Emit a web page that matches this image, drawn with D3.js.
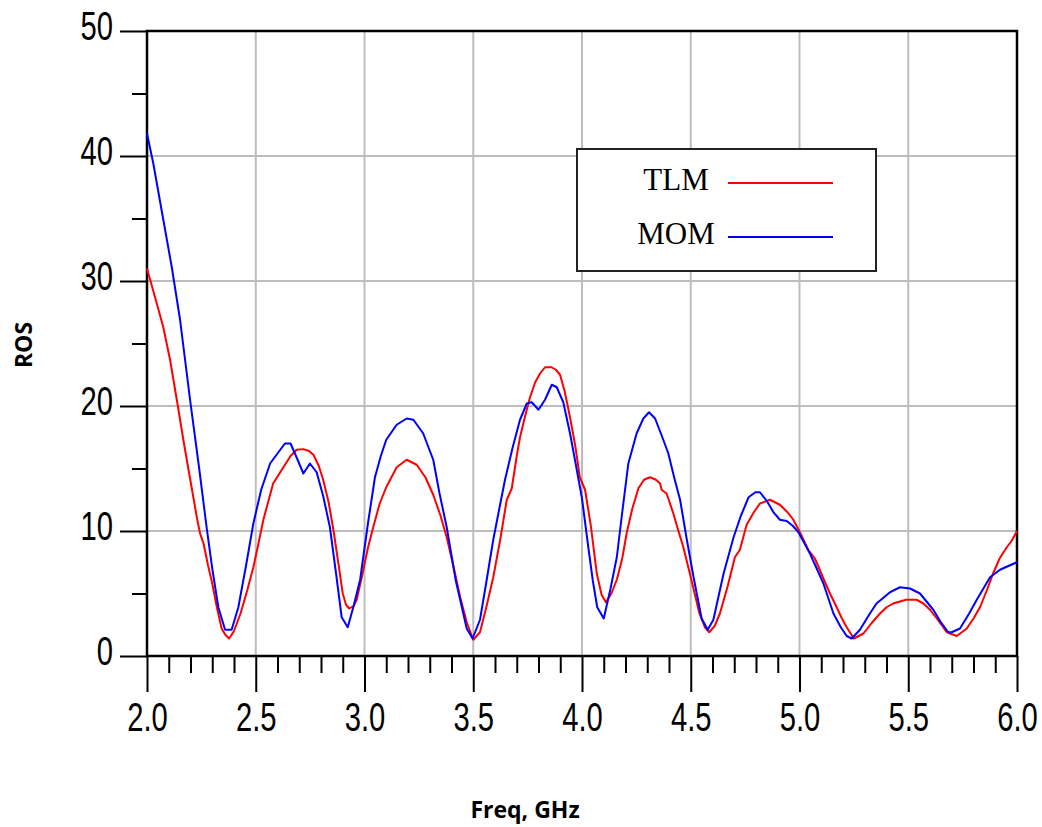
<!DOCTYPE html>
<html>
<head>
<meta charset="utf-8">
<script src="https://cdn.jsdelivr.net/npm/d3@7"></script>
<style>
  html, body { margin: 0; padding: 0; background: #fff; }
  svg { display: block; }
</style>
</head>
<body>
<svg></svg>
<script>
// ---------- data ----------

const tlmFreq = [
  2.000, 2.037, 2.075, 2.106, 2.137, 2.170, 2.200, 2.230, 2.244, 2.260, 2.280, 2.300, 2.320, 2.343,
  2.360, 2.378, 2.400, 2.430, 2.460, 2.489, 2.510, 2.535, 2.580, 2.627, 2.660, 2.688, 2.719, 2.745,
  2.765, 2.790, 2.810, 2.835, 2.857, 2.880, 2.900, 2.915, 2.930, 2.950, 2.964, 2.990, 3.015, 3.040,
  3.070, 3.100, 3.148, 3.194, 3.240, 3.280, 3.316, 3.350, 3.378, 3.410, 3.440, 3.470, 3.500, 3.531,
  3.560, 3.592, 3.625, 3.654, 3.677, 3.700, 3.715, 3.740, 3.761, 3.785, 3.807, 3.830, 3.860, 3.880,
  3.899, 3.920, 3.945, 3.970, 3.990, 4.014, 4.040, 4.068, 4.090, 4.110, 4.135, 4.160, 4.185, 4.205,
  4.230, 4.259, 4.285, 4.313, 4.340, 4.359, 4.366, 4.389, 4.420, 4.440, 4.466, 4.500, 4.540, 4.565,
  4.585, 4.610, 4.634, 4.670, 4.703, 4.726, 4.757, 4.790, 4.818, 4.864, 4.910, 4.945, 4.972, 5.002,
  5.040, 5.071, 5.110, 5.140, 5.171, 5.195, 5.217, 5.250, 5.294, 5.330, 5.370, 5.400, 5.431, 5.490,
  5.538, 5.570, 5.600, 5.640, 5.677, 5.723, 5.769, 5.800, 5.830, 5.860, 5.890, 5.920, 5.953, 5.975,
  6.000,
];
const tlmRos = [
  31.0, 28.7, 26.3, 23.7, 20.5, 17.0, 14.0, 11.0, 9.8, 9.0, 7.3, 5.8, 4.0, 2.2,
  1.7, 1.4, 2.0, 3.4, 5.2, 7.1, 8.8, 10.9, 13.8, 15.1, 16.0, 16.5, 16.55, 16.4,
  16.1, 15.2, 14.1, 12.3, 10.1, 7.4, 5.0, 4.1, 3.8, 4.0, 4.5, 6.5, 8.6, 10.3,
  12.2, 13.5, 15.1, 15.7, 15.3, 14.3, 12.9, 11.2, 9.5, 7.1, 4.7, 2.7, 1.3, 1.9,
  3.9, 6.3, 9.4, 12.5, 13.4, 16.0, 17.5, 19.3, 20.7, 21.9, 22.6, 23.1, 23.1, 22.9,
  22.5, 21.2, 19.1, 16.7, 14.3, 13.3, 10.5, 6.6, 4.9, 4.3, 5.0, 6.1, 7.8, 9.8,
  11.7, 13.4, 14.1, 14.3, 14.1, 13.8, 13.3, 13.0, 11.4, 10.2, 8.7, 6.3, 3.4, 2.3,
  1.9, 2.4, 3.4, 5.6, 7.9, 8.5, 10.5, 11.5, 12.2, 12.5, 12.1, 11.5, 10.9, 9.9,
  8.5, 7.8, 6.2, 5.0, 3.9, 3.0, 2.3, 1.4, 1.8, 2.6, 3.4, 3.9, 4.2, 4.5,
  4.5, 4.2, 3.7, 2.8, 1.9, 1.6, 2.2, 3.0, 3.9, 5.2, 6.6, 7.8, 8.7, 9.2,
  10.0,
];

const momFreq = [
  2.000, 2.029, 2.075, 2.114, 2.152, 2.198, 2.240, 2.274, 2.300, 2.328, 2.359, 2.389, 2.420, 2.455,
  2.489, 2.525, 2.566, 2.600, 2.634, 2.660, 2.690, 2.719, 2.749, 2.780, 2.810, 2.841, 2.870, 2.895,
  2.923, 2.950, 2.980, 3.015, 3.048, 3.075, 3.100, 3.148, 3.194, 3.225, 3.270, 3.316, 3.345, 3.378,
  3.420, 3.470, 3.497, 3.531, 3.560, 3.592, 3.620, 3.646, 3.680, 3.715, 3.746, 3.769, 3.800, 3.830,
  3.861, 3.884, 3.914, 3.945, 3.976, 4.000, 4.029, 4.050, 4.070, 4.100, 4.130, 4.160, 4.185, 4.213,
  4.251, 4.282, 4.308, 4.336, 4.365, 4.397, 4.425, 4.451, 4.480, 4.513, 4.550, 4.578, 4.604, 4.651,
  4.697, 4.730, 4.766, 4.797, 4.818, 4.850, 4.880, 4.910, 4.941, 4.970, 4.995, 5.048, 5.110, 5.156,
  5.190, 5.217, 5.240, 5.278, 5.320, 5.354, 5.416, 5.462, 5.508, 5.554, 5.615, 5.650, 5.684, 5.700,
  5.738, 5.780, 5.815, 5.876, 5.922, 5.960, 6.000,
];
const momRos = [
  41.8, 39.4, 34.9, 31.1, 26.9, 20.5, 15.0, 10.3, 7.0, 3.9, 2.1, 2.1, 3.9, 7.2,
  10.6, 13.3, 15.4, 16.2, 17.0, 17.0, 15.8, 14.6, 15.4, 14.7, 12.8, 10.3, 6.5, 3.1,
  2.3, 4.0, 6.1, 10.5, 14.3, 16.0, 17.3, 18.5, 19.0, 18.9, 17.8, 15.7, 13.0, 10.3,
  6.0, 2.2, 1.4, 2.9, 5.9, 9.3, 11.8, 14.1, 16.6, 18.9, 20.2, 20.3, 19.7, 20.5,
  21.7, 21.5, 20.3, 17.8, 14.9, 12.6, 8.7, 6.0, 3.9, 3.0, 5.3, 7.9, 11.5, 15.4,
  17.8, 19.0, 19.5, 19.0, 17.7, 16.2, 14.2, 12.5, 9.5, 6.3, 3.0, 2.1, 2.9, 6.6,
  9.5, 11.2, 12.7, 13.1, 13.1, 12.4, 11.5, 10.9, 10.8, 10.4, 9.9, 8.2, 5.8, 3.4,
  2.3, 1.6, 1.4, 2.1, 3.3, 4.2, 5.1, 5.5, 5.4, 5.0, 3.7, 2.7, 1.9, 1.9,
  2.2, 3.4, 4.5, 6.3, 6.9, 7.2, 7.5,
];

const xMajorTicks = [2.0, 2.5, 3.0, 3.5, 4.0, 4.5, 5.0, 5.5, 6.0];
const xMinorTicks = d3.range(21, 60).map((d) => d / 10).filter((d) => Math.round(d * 10) % 5 !== 0);
const yMajorTicks = [0, 10, 20, 30, 40, 50];
const yMinorTicks = [5, 15, 25, 35, 45];

const seriesNames = ['TLM', 'MOM'];
const seriesColors = ['#ff0000', '#0000ff'];

// ---------- layout ----------

const WIDTH = 1042;
const HEIGHT = 827;
const MARGIN = { top: 31, left: 147 };
const PLOT_W = 870;
const PLOT_H = 625;
const GRID_COLOR = '#bdbdbd';
const TICK_FONT = '"Liberation Sans", Arial, sans-serif';
const TICK_SQUEEZE = 0.73; // tick labels are drawn in a condensed face
const TITLE_FONT = '"Open Sans", "Noto Sans", sans-serif';

const svg = d3.select('svg').attr('width', WIDTH).attr('height', HEIGHT);
const g = svg.append('g').attr('transform', `translate(${MARGIN.left},${MARGIN.top})`);

const x = d3.scaleLinear().domain([2, 6]).range([0, PLOT_W]);
const y = d3.scaleLinear().domain([0, 50]).range([PLOT_H, 0]);

// ---------- grid ----------

const grid = g.append('g');
grid
  .selectAll('line.vx')
  .data(xMajorTicks.slice(1, -1))
  .join('line')
  .attr('x1', (d) => x(d))
  .attr('x2', (d) => x(d))
  .attr('y1', 0)
  .attr('y2', PLOT_H)
  .attr('stroke', GRID_COLOR)
  .attr('stroke-width', 2);
grid
  .selectAll('line.hy')
  .data(yMajorTicks.slice(1, -1))
  .join('line')
  .attr('x1', 0)
  .attr('x2', PLOT_W)
  .attr('y1', (d) => y(d))
  .attr('y2', (d) => y(d))
  .attr('stroke', GRID_COLOR)
  .attr('stroke-width', 2);

// ---------- axes ----------

const styleAxis = (sel) => {
  sel.select('.domain').remove();
  sel.selectAll('line').attr('stroke', '#000').attr('stroke-width', 2);
  sel.selectAll('text').attr('fill', '#000').style('font-family', TICK_FONT).style('font-size', '40px');
};

g.append('g')
  .attr('transform', `translate(0,${PLOT_H})`)
  .call(d3.axisBottom(x).tickValues(xMinorTicks).tickSize(17).tickFormat(''))
  .call(styleAxis);

g.append('g')
  .attr('transform', `translate(0,${PLOT_H})`)
  .call(d3.axisBottom(x).tickValues(xMajorTicks).tickSize(36).tickPadding(11).tickFormat(d3.format('.1f')))
  .call(styleAxis)
  .selectAll('text')
  .attr('transform', `scale(${TICK_SQUEEZE},1)`);

g.append('g')
  .call(d3.axisLeft(y).tickValues(yMinorTicks).tickSize(15).tickFormat(''))
  .call(styleAxis);

g.append('g')
  .call(d3.axisLeft(y).tickValues(yMajorTicks).tickSize(27).tickPadding(7))
  .call(styleAxis)
  .selectAll('text')
  .attr('x', -34 / TICK_SQUEEZE)
  .attr('dy', '0.2em')
  .attr('transform', `scale(${TICK_SQUEEZE},1)`);

// frame
g.append('rect')
  .attr('x', 0)
  .attr('y', 0)
  .attr('width', PLOT_W)
  .attr('height', PLOT_H)
  .attr('fill', 'none')
  .attr('stroke', '#000')
  .attr('stroke-width', 2.5);

// ---------- curves ----------

const line = d3
  .line()
  .x((d) => x(d[0]))
  .y((d) => y(d[1]));

const series = [d3.zip(tlmFreq, tlmRos), d3.zip(momFreq, momRos)];

g.selectAll('path.curve')
  .data(series)
  .join('path')
  .attr('class', 'curve')
  .attr('d', line)
  .attr('fill', 'none')
  .attr('stroke', (_, i) => seriesColors[i])
  .attr('stroke-width', 2)
  .attr('stroke-linejoin', 'round');

// ---------- legend ----------

const legend = svg.append('g').attr('transform', 'translate(577,149)');
legend
  .append('rect')
  .attr('width', 299)
  .attr('height', 122)
  .attr('fill', '#fff')
  .attr('stroke', '#222')
  .attr('stroke-width', 2);

const items = legend
  .selectAll('g.item')
  .data(seriesNames)
  .join('g')
  .attr('class', 'item')
  .attr('transform', (_, i) => `translate(0,${34 + i * 54})`);

items
  .append('text')
  .attr('x', 99)
  .attr('y', 7)
  .attr('text-anchor', 'middle')
  .style('font-family', '"Liberation Serif", "Times New Roman", serif')
  .style('font-size', '31px')
  .text((d) => d);

items
  .append('line')
  .attr('x1', 151)
  .attr('x2', 256)
  .attr('stroke', (_, i) => seriesColors[i])
  .attr('stroke-width', 2);

// ---------- axis titles ----------

svg
  .append('text')
  .attr('transform', 'translate(32,345) rotate(-90)')
  .attr('text-anchor', 'middle')
  .style('font-family', TITLE_FONT)
  .style('font-weight', 700)
  .style('font-size', '23px')
  .text('ROS');

svg
  .append('text')
  .attr('x', 525)
  .attr('y', 818)
  .attr('text-anchor', 'middle')
  .style('font-family', TITLE_FONT)
  .style('font-weight', 700)
  .style('font-size', '23px')
  .text('Freq, GHz');
</script>
</body>
</html>
